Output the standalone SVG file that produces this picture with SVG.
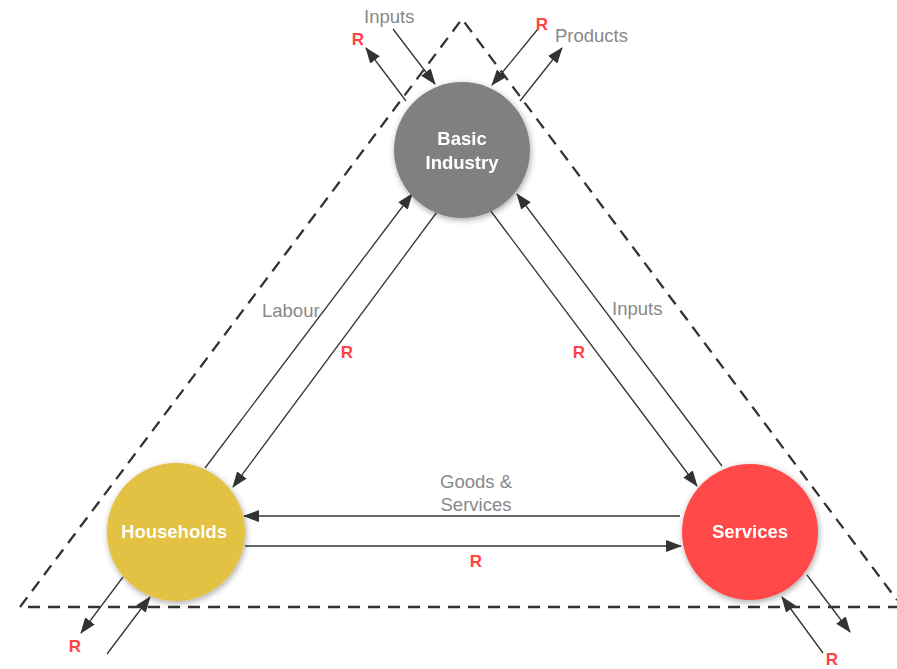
<svg xmlns="http://www.w3.org/2000/svg" width="897" height="669" viewBox="0 0 897 669">
  <style>
    .frame { fill: none; stroke: #333; stroke-width: 2.3; stroke-dasharray: 12 8; }
    .flow { stroke: #333; stroke-width: 1.3; fill: none; marker-end: url(#head); }
    .lbl { font-family: "Liberation Sans", Arial, sans-serif; font-size: 18.5px; fill: #888; }
    .r { font-family: "Liberation Sans", Arial, sans-serif; font-size: 17px; font-weight: bold; fill: #ff4444; text-anchor: middle; }
    .name { font-family: "Liberation Sans", Arial, sans-serif; font-size: 18.5px; font-weight: bold; fill: #fff; text-anchor: middle; }
  </style>
  <defs>
    <marker id="head" viewBox="0 0 16 12" refX="15" refY="6" markerWidth="16" markerHeight="12" markerUnits="userSpaceOnUse" orient="auto">
      <path d="M0,0 L16,6 L0,12 Z" fill="#333"/>
    </marker>
    <filter id="shadow" x="-20%" y="-20%" width="140%" height="140%">
      <feGaussianBlur in="SourceAlpha" stdDeviation="3"/>
      <feOffset dx="1" dy="2" result="b"/>
      <feComponentTransfer><feFuncA type="linear" slope="0.35"/></feComponentTransfer>
      <feMerge><feMergeNode/><feMergeNode in="SourceGraphic"/></feMerge>
    </filter>
  </defs>
  <rect width="897" height="669" fill="#fff"/>

  <!-- dashed system boundary -->
  <g id="boundary">
    <path class="frame" d="M20,607 L462,19 L897,600"/>
    <path class="frame" d="M28,607 L897,607"/>
  </g>

  <!-- flows -->
  <g id="connectors">
    <line class="flow" x1="393" y1="29" x2="435" y2="84"/>
    <line class="flow" x1="406" y1="101" x2="366" y2="48"/>
    <line class="flow" x1="538" y1="29" x2="492" y2="85"/>
    <line class="flow" x1="520" y1="101" x2="562" y2="48"/>

    <line class="flow" x1="205" y1="468" x2="412" y2="194"/>
    <line class="flow" x1="437" y1="212" x2="233" y2="487"/>
    <line class="flow" x1="490" y1="210" x2="697" y2="486"/>
    <line class="flow" x1="722" y1="466" x2="517" y2="194"/>

    <line class="flow" x1="680" y1="516" x2="244" y2="516"/>
    <line class="flow" x1="245" y1="546" x2="681" y2="546"/>

    <line class="flow" x1="123" y1="577" x2="81" y2="633"/>
    <line class="flow" x1="107" y1="654" x2="150" y2="597"/>
    <line class="flow" x1="807" y1="575" x2="850" y2="632"/>
    <line class="flow" x1="823" y1="653" x2="782" y2="597"/>
  </g>

  <!-- flow labels -->
  <g id="labels">
    <text class="lbl" x="364" y="23">Inputs</text>
    <text class="r" x="358" y="45">R</text>
    <text class="r" x="542" y="30">R</text>
    <text class="lbl" x="555" y="42">Products</text>
    <text class="lbl" x="262" y="317">Labour</text>
    <text class="r" x="347" y="358">R</text>
    <text class="lbl" x="612" y="315">Inputs</text>
    <text class="r" x="579" y="358">R</text>
    <text class="lbl" x="476" y="488" text-anchor="middle">Goods &amp;</text>
    <text class="lbl" x="476" y="511" text-anchor="middle">Services</text>
    <text class="r" x="476" y="567">R</text>
    <text class="r" x="75" y="652">R</text>
    <text class="r" x="832" y="665">R</text>
  </g>

  <g id="basic-industry" filter="url(#shadow)">
    <circle cx="462" cy="150" r="68" fill="#808080"/>
    <text class="name" x="462" y="145">Basic</text>
    <text class="name" x="462" y="169">Industry</text>
  </g>
  <g id="households" filter="url(#shadow)">
    <circle cx="176" cy="532" r="69" fill="#e3c143"/>
    <text class="name" x="174" y="538">Households</text>
  </g>
  <g id="services" filter="url(#shadow)">
    <circle cx="750" cy="532" r="68" fill="#ff4848"/>
    <text class="name" x="750" y="538">Services</text>
  </g>
</svg>
